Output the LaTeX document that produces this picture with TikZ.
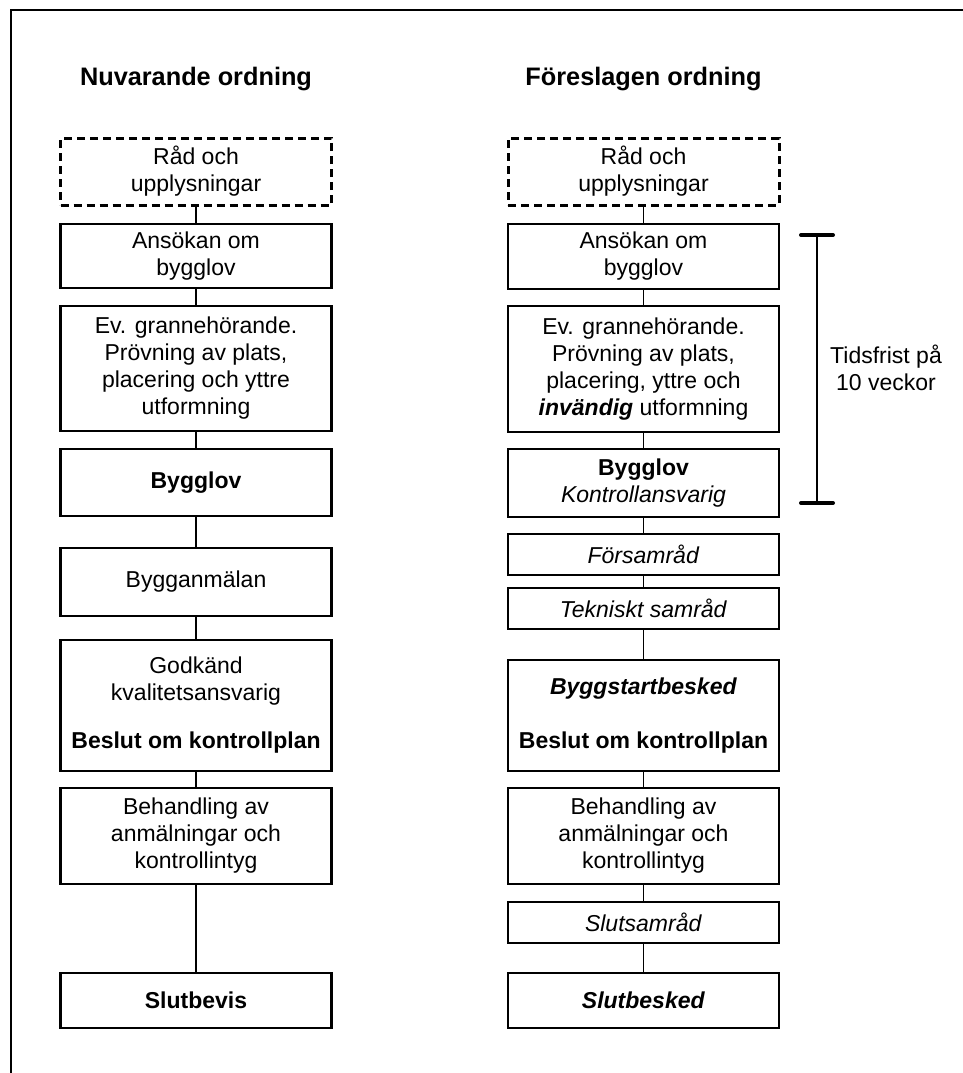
\documentclass[tikz,border=0pt]{standalone}
\usepackage{fontspec}
\setmainfont{Liberation Sans}
\usepackage{tikz}

\begin{document}
\begin{tikzpicture}[x=1pt, y=-1pt,
    stepbox/.style={draw, line width=2.2, minimum width=271, inner sep=0, align=center,
      font=\fontsize{23}{27}\selectfont},
    tipbox/.style={stepbox, dashed, line width=3, dash pattern=on 8pt off 5pt},
    heading/.style={anchor=base, font=\bfseries\fontsize{25.3}{30}\selectfont},
    link/.style={line width=1.6}]
  \useasboundingbox (0, 0) rectangle (963, 1073);
  \draw[line width=2.5] (963, 10) -- (11, 10) -- (11, 1073);

  \node[heading] (nuv) at (196, 85) {Nuvarande ordning};
  \node[heading] (for) at (643.5, 85) {Föreslagen ordning};

  % nuvarande ordning
  \node[tipbox, minimum height=67] (nrad) at (196, 171.5) {Råd och\\upplysningar};
  \node[stepbox, minimum height=64] (nans) at (196, 256) {Ansökan om\\bygglov};
  \node[stepbox, minimum height=125] (nprov) at (196, 368.5)
    {Ev. grannehörande.\\Prövning av plats,\\placering och yttre\\utformning};
  \node[stepbox, minimum height=67] (nlov) at (196, 482.5) {\textbf{Bygglov}};
  \node[stepbox, minimum height=68] (nanm) at (196, 582) {Bygganmälan};
  \node[stepbox, minimum height=131] (nplan) at (196, 705.5)
    {Godkänd\\kvalitetsansvarig\\[21pt]\textbf{Beslut om kontrollplan}};
  \node[stepbox, minimum height=96] (nbeh) at (196, 836)
    {Behandling av\\anmälningar och\\kontrollintyg};
  \node[stepbox, minimum height=55] (nslut) at (196, 1000.5) {\textbf{Slutbevis}};

  % foreslagen ordning
  \node[tipbox, minimum height=67] (frad) at (643.5, 171.5) {Råd och\\upplysningar};
  \node[stepbox, minimum height=65] (fans) at (643.5, 256.5) {Ansökan om\\bygglov};
  \node[stepbox, minimum height=126] (fprov) at (643.5, 369)
    {Ev. grannehörande.\\Prövning av plats,\\placering, yttre och\\\textbf{\textit{invändig}} utformning};
  \node[stepbox, minimum height=68] (flov) at (643.5, 483)
    {\textbf{Bygglov}\\\textit{Kontrollansvarig}};
  \node[stepbox, minimum height=41] (ffor) at (643.5, 554.5) {\textit{Församråd}};
  \node[stepbox, minimum height=41] (ftek) at (643.5, 608.5) {\textit{Tekniskt samråd}};
  \node[stepbox, minimum height=111] (fstart) at (643.5, 715.5)
    {\textbf{\textit{Byggstartbesked}}\\[27pt]\textbf{Beslut om kontrollplan}};
  \node[stepbox, minimum height=96] (fbeh) at (643.5, 836)
    {Behandling av\\anmälningar och\\kontrollintyg};
  \node[stepbox, minimum height=41] (fsam) at (643.5, 922.5) {\textit{Slutsamråd}};
  \node[stepbox, minimum height=55] (fslut) at (643.5, 1000.5) {\textbf{\textit{Slutbesked}}};

  \foreach \a/\b in {nrad/nans, nans/nprov, nprov/nlov, nlov/nanm, nanm/nplan, nplan/nbeh, nbeh/nslut,
      frad/fans, fans/fprov, fprov/flov, flov/ffor, ffor/ftek, ftek/fstart, fstart/fbeh, fbeh/fsam, fsam/fslut}
    \draw[link] (\a.south) -- (\b.north);

  % tidsfrist
  \coordinate (tftop) at (817, 235);
  \coordinate (tfbot) at (817, 503);
  \draw[line width=1.3] (tftop) -- (tfbot);
  \draw[line width=4, line cap=round] ([xshift=-16]tftop) -- ([xshift=16]tftop);
  \draw[line width=4, line cap=round] ([xshift=-16]tfbot) -- ([xshift=16]tfbot);
  \node[align=center, font=\fontsize{23}{27}\selectfont] (tfrist) at (886, 368) {Tidsfrist på\\10 veckor};

\end{tikzpicture}
\end{document}
